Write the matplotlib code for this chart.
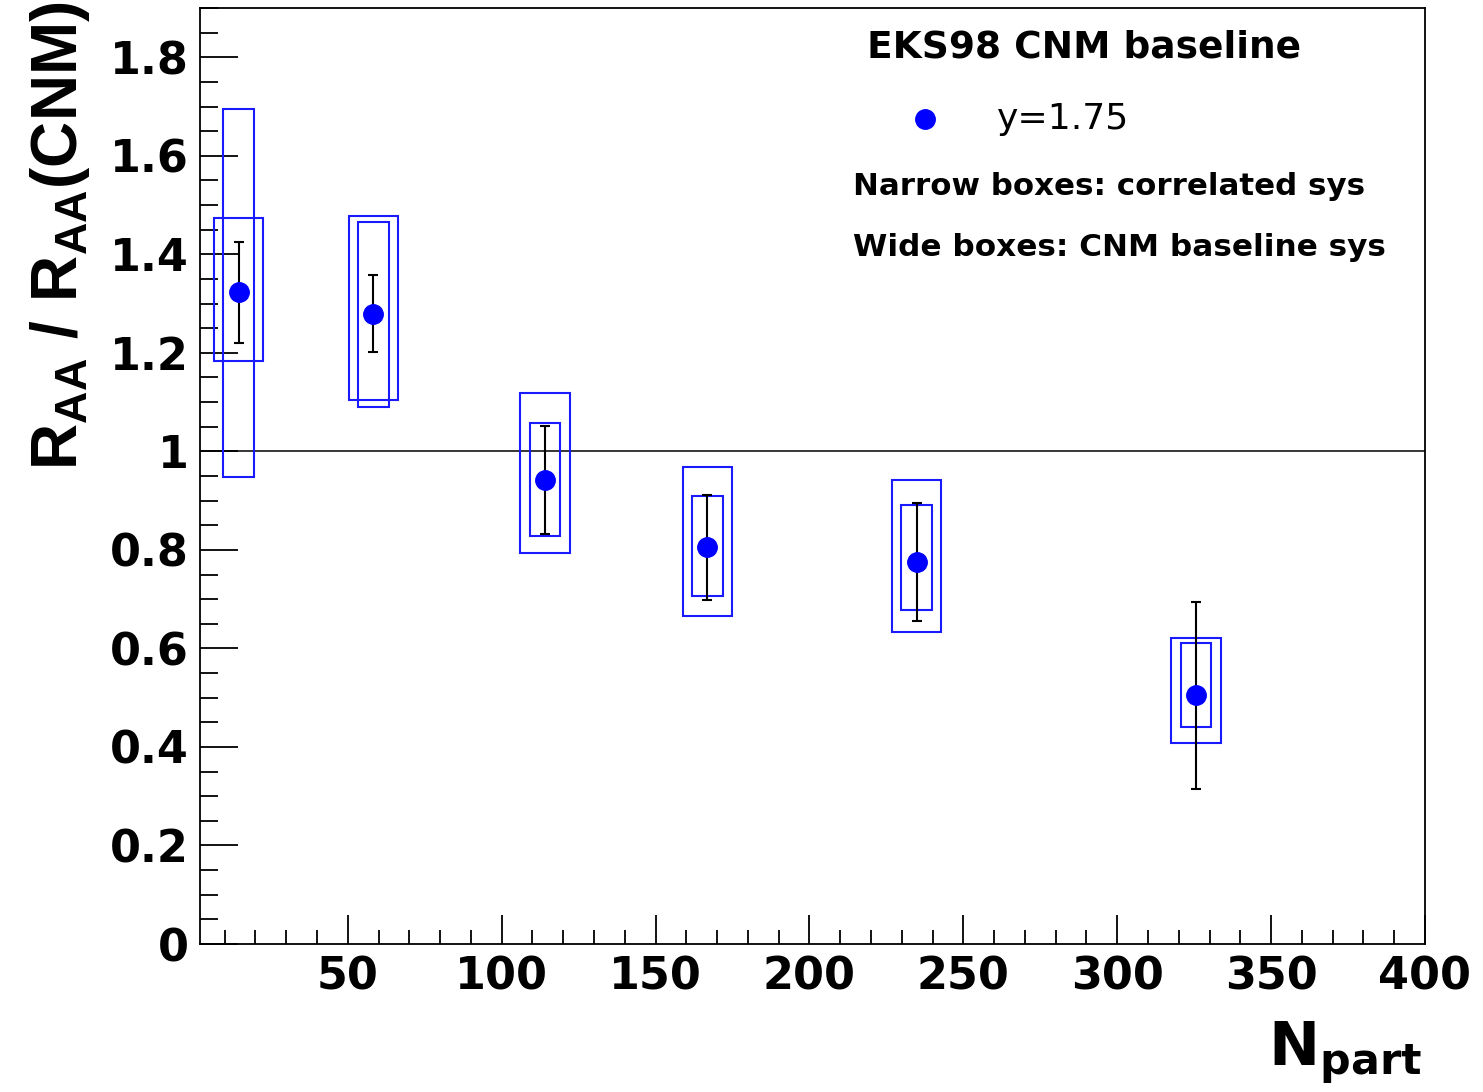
import numpy as np
import matplotlib
matplotlib.use('Agg')
import matplotlib.pyplot as plt
from matplotlib.patches import Rectangle
from matplotlib.ticker import MultipleLocator, FixedLocator

# custom mathtext set (Arial-like bold) used only for the y title
matplotlib.rcParams['mathtext.rm'] = 'Liberation Sans:bold'
matplotlib.rcParams['mathtext.bf'] = 'Liberation Sans:bold'
matplotlib.rcParams['mathtext.it'] = 'Liberation Sans:bold'

# Data (y = 1.75, EKS98 CNM baseline)
npart = [14.6, 58.3, 114.1, 166.8, 234.8, 325.6]
ratio = [1.323, 1.279, 0.942, 0.805, 0.776, 0.505]
stat_err = [0.103, 0.078, 0.109, 0.107, 0.120, 0.190]
# narrow boxes: correlated sys
corr_up = [0.372, 0.187, 0.116, 0.104, 0.116, 0.106]
corr_dn = [0.375, 0.189, 0.114, 0.099, 0.097, 0.064]
# wide boxes: CNM baseline sys
cnm_up = [0.151, 0.198, 0.177, 0.163, 0.166, 0.117]
cnm_dn = [0.139, 0.175, 0.148, 0.140, 0.142, 0.096]

y_ticks = [0, 0.2, 0.4, 0.6, 0.8, 1, 1.2, 1.4, 1.6, 1.8]
x_ticks = [50, 100, 150, 200, 250, 300, 350, 400]

narrow_hw = 5.0
wide_hw = 8.0

W, H = 1483, 1092
fig = plt.figure(figsize=(W / 100, H / 100), dpi=100)
ax = fig.add_axes([200 / W, 1 - 944 / H, 1225 / W, 936 / H])

ax.set_xlim(2, 400)
ax.set_ylim(0, 1.9)

# reference line at 1
ax.axhline(1.0, color='black', lw=1.1, zorder=1)

# systematic boxes
for x, y, cu, cd, wu, wd in zip(npart, ratio, corr_up, corr_dn, cnm_up, cnm_dn):
    ax.add_patch(Rectangle((x - narrow_hw, y - cd), 2 * narrow_hw, cu + cd,
                           fill=False, edgecolor='#1a1aff', lw=1.5, zorder=2))
    ax.add_patch(Rectangle((x - wide_hw, y - wd), 2 * wide_hw, wu + wd,
                           fill=False, edgecolor='#1a1aff', lw=1.5, zorder=2))

# points with stat errors
ax.errorbar(npart, ratio, yerr=stat_err, fmt='none', ecolor='black',
            elinewidth=1.5, capsize=3.5, capthick=1.5, zorder=3)
ax.plot(npart, ratio, 'o', color='blue', ms=14, mec='blue', zorder=4)

# ticks
ax.yaxis.set_major_locator(FixedLocator(y_ticks))
ax.yaxis.set_minor_locator(MultipleLocator(0.05))
ax.xaxis.set_major_locator(FixedLocator(x_ticks))
ax.xaxis.set_minor_locator(MultipleLocator(10))
ax.set_yticklabels(['%g' % v for v in y_ticks])
ax.set_xticklabels(['%g' % v for v in x_ticks])

ax.tick_params(axis='y', which='major', direction='in', length=27, width=1.3,
               labelsize=32, pad=8)
ax.tick_params(axis='y', which='minor', direction='in', length=13, width=1.3)
ax.tick_params(axis='x', which='major', direction='in', length=21, width=1.3,
               labelsize=32, pad=8)
ax.tick_params(axis='x', which='minor', direction='in', length=10, width=1.3)
for lab in ax.get_xticklabels() + ax.get_yticklabels():
    lab.set_fontweight('bold')
for sp in ax.spines.values():
    sp.set_linewidth(1.3)

# axis titles
fig.text(60 / W, 1 - 236 / H, r'$\mathrm{R_{AA}\ /\ R_{AA}(CNM)}$',
         rotation=90, ha='center', va='center', fontsize=46,
         math_fontfamily='custom')
fig.text(1422 / W, 1 - 1065 / H, r'$\mathbf{N_{part}}$',
         ha='right', va='baseline', fontsize=44)

# legend block
fig.text(867 / W, 1 - 48 / H, 'EKS98 CNM baseline', ha='left', va='center',
         fontsize=27, fontweight='bold')
ax.plot([0.592], [0.8815], 'o', color='blue', ms=14, transform=ax.transAxes,
        clip_on=False)
fig.text(997 / W, 1 - 119 / H, 'y=1.75', ha='left', va='center', fontsize=26)
fig.text(853 / W, 1 - 186 / H, 'Narrow boxes: correlated sys', ha='left',
         va='center', fontsize=22.2, fontweight='bold')
fig.text(853 / W, 1 - 247 / H, 'Wide boxes: CNM baseline sys', ha='left',
         va='center', fontsize=22.4, fontweight='bold')

plt.savefig('out.png', dpi=100)
